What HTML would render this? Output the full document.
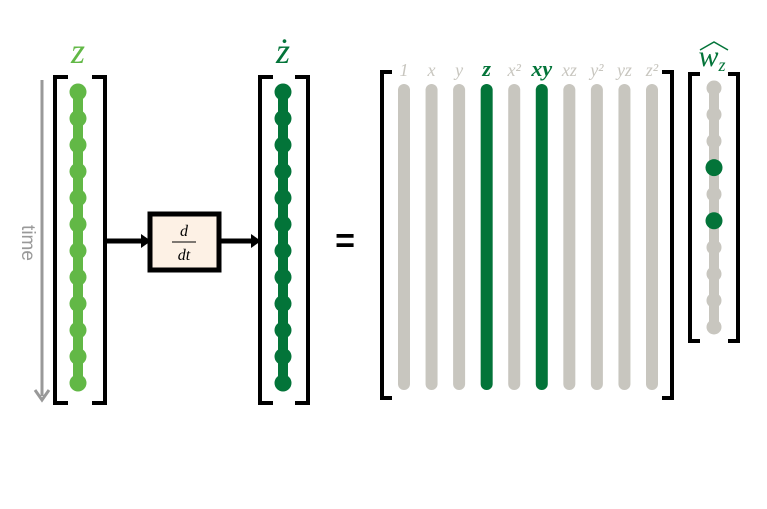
<!DOCTYPE html>
<html><head><meta charset="utf-8"><style>
html,body{margin:0;padding:0;background:#fff;width:767px;height:509px;overflow:hidden}
text{font-family:"Liberation Serif",serif}
</style></head><body>
<svg id="fig" width="767" height="509" viewBox="0 0 767 509" xmlns="http://www.w3.org/2000/svg">
<g>
<line x1="42" y1="80" x2="42" y2="396" stroke="#999" stroke-width="3"/>
<polyline points="35,390 42,400 49,390" fill="none" stroke="#999" stroke-width="3"/>
<text x="22" y="243" transform="rotate(90 22 243)" text-anchor="middle" font-size="19" fill="#999" style="font-family:'Liberation Sans',sans-serif">time</text>
</g>
<text x="78" y="63" text-anchor="middle" font-size="36" font-style="italic" fill="#62b846">z</text>
<text x="283" y="63" text-anchor="middle" font-size="36" font-style="italic" fill="#037439">ż</text>
<g>
<line x1="105" y1="241" x2="144" y2="241" stroke="#000" stroke-width="5"/>
<polygon points="141,234 151,241 141,248" fill="#000"/>
<rect x="150" y="214" width="69" height="56" fill="#fdf1e5" stroke="#000" stroke-width="5"/>
<text x="184" y="236" text-anchor="middle" font-size="16" font-style="italic">d</text>
<line x1="172" y1="242" x2="196" y2="242" stroke="#000" stroke-width="1"/>
<text x="184" y="260" text-anchor="middle" font-size="16" font-style="italic">dt</text>
<line x1="219" y1="241" x2="254" y2="241" stroke="#000" stroke-width="5"/>
<polygon points="251,234 261,241 251,248" fill="#000"/>
</g>
<text x="345" y="252" text-anchor="middle" font-size="34" font-weight="bold" style="font-family:'Liberation Sans',sans-serif">=</text>
<text x="712" y="66" text-anchor="middle" font-size="30" font-style="italic" fill="#037439">w<tspan font-size="18" dy="5">z</tspan></text>
<path d="M700,50 L714,42 L728,50" fill="none" stroke="#037439" stroke-width="1.5"/>
<g id="marks"></g>
</svg>
<script>
const terms = ["1","x","y","z","x²","xy","xz","y²","yz","z²"];
const active = [0,0,0,1,0,1,0,0,0,0];
const nSamples = 12;

const NS="http://www.w3.org/2000/svg";
const g=document.getElementById('marks');
function mk(t,a){const e=document.createElementNS(NS,t);for(const k in a)e.setAttribute(k,a[k]);g.appendChild(e);return e;}
function bracket(x1,x2,y1,y2,tick){
  mk('path',{d:`M${x1+tick},${y1} H${x1} V${y2} H${x1+tick}`,fill:'none',stroke:'#000','stroke-width':4});
  mk('path',{d:`M${x2-tick},${y1} H${x2} V${y2} H${x2-tick}`,fill:'none',stroke:'#000','stroke-width':4});
}
function column(x,y1,y2,n,color,r,name){
  const l=mk('line',{x1:x,y1:y1,x2:x,y2:y2,stroke:color,'stroke-width':10,'stroke-linecap':'round'});
  
  
  for(let i=0;i<n;i++){
    const c=mk('circle',{cx:x,cy:y1+(y2-y1)*i/(n-1),r:r,fill:color});
    
    
  }
}
bracket(55,105,77,403,13);
column(78,92,383,nSamples,'#62b846',8.5,'z');
bracket(260,308,77,403,13);
column(283,92,383,nSamples,'#037439',8.5,'zdot');
bracket(382,672,72,398,10);
const x0=404,x1=652;
terms.forEach((t,i)=>{
  const x=x0+(x1-x0)*i/(terms.length-1);
  const col=active[i]?'#037439':'#c8c6bf';
  const l=mk('line',{x1:x,y1:90,x2:x,y2:384,stroke:col,'stroke-width':12,'stroke-linecap':'round'});
  
  
  const tx=mk('text',{x:x,y:76,'text-anchor':'middle','font-size':active[i]?22:18,'font-style':'italic',fill:active[i]?'#037439':'#c8c6bf','font-weight':active[i]?'bold':'normal'});
  tx.textContent=t;
  
  
});
bracket(690,738,74,341,10);
const wy0=88,wy1=327;
const wl=mk('line',{x1:714,y1:wy0,x2:714,y2:wy1,stroke:'#c8c6bf','stroke-width':10,'stroke-linecap':'round'});


active.forEach((a,i)=>{
  const c=mk('circle',{cx:714,cy:wy0+(wy1-wy0)*i/(active.length-1),r:a?8.5:7.5,fill:a?'#037439':'#c8c6bf'});
  
  
});
</script>
</body></html>
